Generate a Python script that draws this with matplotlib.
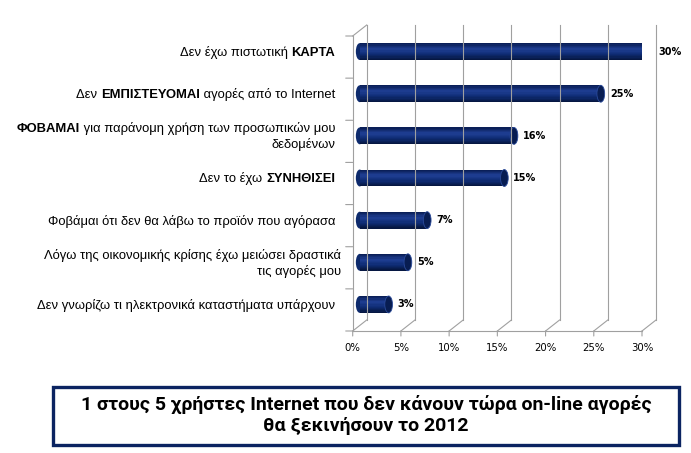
import numpy as np
import matplotlib
matplotlib.use('Agg')
import matplotlib.pyplot as plt
from matplotlib import transforms
from matplotlib.patches import Ellipse, Rectangle
from matplotlib.colors import LinearSegmentedColormap

# data (top to bottom), **...** marks the bold words
labels = ["Δεν έχω πιστωτική **ΚΑΡΤΑ**",
          "Δεν **ΕΜΠΙΣΤΕΥΟΜΑΙ** αγορές από το Internet",
          "**ΦΟΒΑΜΑΙ** για παράνομη χρήση των προσωπικών μου\nδεδομένων",
          "Δεν το έχω **ΣΥΝΗΘΙΣΕΙ**",
          "Φοβάμαι ότι δεν θα λάβω το προϊόν που αγόρασα",
          "Λόγω της οικονομικής κρίσης έχω μειώσει δραστικά\nτις αγορές μου",
          "Δεν γνωρίζω τι ηλεκτρονικά καταστήματα υπάρχουν"]
values = [30, 25, 16, 15, 7, 5, 3]
xticks = [0, 5, 10, 15, 20, 25, 30]
title = "1 στους 5 χρήστες Internet που δεν κάνουν τώρα on-line αγορές\nθα ξεκινήσουν το 2012"

W, H = 691, 453
fig = plt.figure(figsize=(W/100, H/100), dpi=100)
ax = fig.add_axes([352.7/W, (H-331)/H, 289.3/W, 295/H])
ax.set_xlim(0, 30)
ax.set_ylim(len(values)-0.5, -0.5)
ax.axis('off')

back = ax.transData + transforms.ScaledTranslation(0.14, 0.11, fig.dpi_scale_trans)
mid = ax.transData + transforms.ScaledTranslation(0.07, 0.055, fig.dpi_scale_trans)
grid_c = '#a0a0a0'
lw = 0.8
y0, y1 = len(values)-0.5, -0.5
inv = ax.transData.inverted()

# back wall gridlines + floor diagonals
for t in xticks:
    ax.plot([t, t], [y0, y1], color=grid_c, lw=lw, transform=back, clip_on=False)
    b = inv.transform(back.transform((t, y0)))
    ax.plot([t, b[0]], [y0, b[1]], color=grid_c, lw=lw, clip_on=False)
# left wall
a = inv.transform(back.transform((0, y1)))
ax.plot([0, a[0]], [y1, a[1]], color=grid_c, lw=lw, clip_on=False)
ax.plot([0, 0], [y0, y1], color=grid_c, lw=lw, clip_on=False)
ax.plot([0, 30], [y0, y0], color=grid_c, lw=lw, clip_on=False)
# ticks
for k in range(len(values)+1):
    ax.annotate('', xy=(0, k-0.5), xytext=(-7, 0), textcoords='offset pixels',
                arrowprops=dict(arrowstyle='-', color=grid_c, lw=lw, shrinkA=0, shrinkB=0))
for t in xticks:
    ax.annotate('', xy=(t, y0), xytext=(0, -5), textcoords='offset pixels',
                arrowprops=dict(arrowstyle='-', color=grid_c, lw=lw, shrinkA=0, shrinkB=0))
    ax.annotate('%d%%' % t, xy=(t, y0), xytext=(0, -17), textcoords='offset pixels',
                ha='center', va='center', fontsize=7.3, family='DejaVu Sans')

# cylinders
bh = 0.40
cap_w = 0.8
shade = LinearSegmentedColormap.from_list('cyl', ['#0a1f58', '#1f3f94', '#0f2c74', '#061742'])
nstrip = 14
ys = np.arange(len(values))
for i, v in enumerate(values):
    ax.add_patch(Ellipse((0, i), cap_w, bh, facecolor='#0d2a6c', edgecolor='none', transform=mid))
for k in range(nstrip):
    off = -bh/2 + (k + 0.5) * bh / nstrip
    ax.barh(ys + off, values, height=bh/nstrip*1.05, color=shade(k/(nstrip-1)),
            transform=mid, linewidth=0)
for i, v in enumerate(values):
    ax.add_patch(Ellipse((v, i), cap_w, bh, facecolor='#081d52', edgecolor='#2a4a9a',
                         lw=0.6, transform=mid))
    ax.annotate('%d%%' % v, xy=(v, i), xycoords=mid, xytext=(9, 0),
                textcoords='offset pixels', ha='left', va='center',
                fontsize=7, fontweight='bold', family='DejaVu Sans')

# category labels with bold parts, right aligned
lab_tr = transforms.blended_transform_factory(fig.transFigure, mid)
fs = 9.4
for i, lab in enumerate(labels):
    lines = lab.split('\n')
    n = len(lines)
    xr = 341 if n == 2 and i == 5 else 335
    for j, line in enumerate(lines):
        dy = (j - (n-1)/2) * 16
        parts = line.split('**')
        prev = None
        for p_idx in range(len(parts)-1, -1, -1):
            txt = parts[p_idx]
            if txt == '':
                continue
            wt = 'bold' if p_idx % 2 == 1 else 'normal'
            if prev is None:
                prev = ax.annotate(txt, xy=(xr/W, i), xycoords=lab_tr, xytext=(0, -dy - 1),
                                   textcoords='offset pixels', ha='right', va='center',
                                   fontsize=fs, fontweight=wt, family='Liberation Sans')
            else:
                prev = ax.annotate(txt, xy=(0, 0), xycoords=prev, ha='right', va='bottom',
                                   fontsize=fs, fontweight=wt, family='Liberation Sans')

# title box
fig.patches.append(Rectangle((52.7/W, (H-445)/H), (679-52.7)/W, (445-387)/H,
                             transform=fig.transFigure, fill=False,
                             edgecolor='#0b2461', lw=2.4))
fig.text(366/W, (H-415)/H, title, ha='center', va='center', fontsize=14,
         fontweight='bold', family=['Roboto', 'DejaVu Sans'],
         linespacing=1.22)

fig.savefig('out.png', dpi=100)
